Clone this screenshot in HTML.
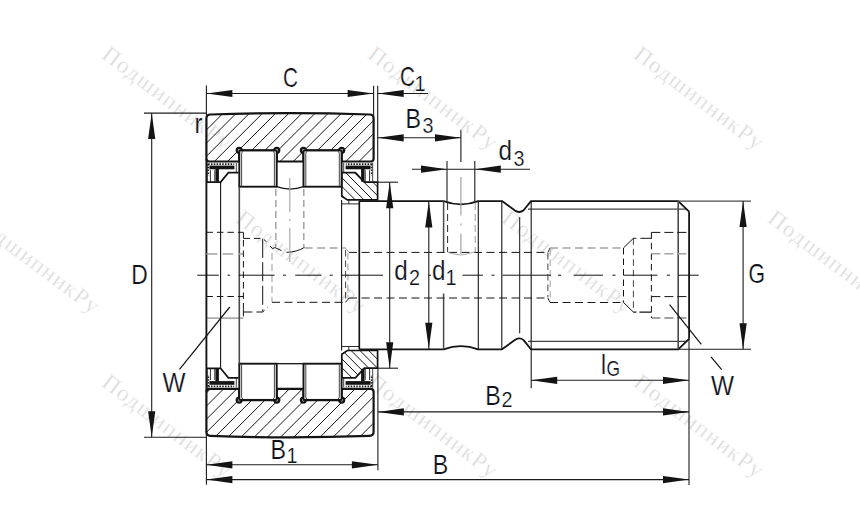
<!DOCTYPE html>
<html lang="ru"><head><meta charset="utf-8"><title>Подшипник — чертёж</title>
<style>
html,body{margin:0;padding:0;background:#fff;}
body{width:860px;height:530px;overflow:hidden;}
svg{display:block;}
</style></head><body>
<svg width="860" height="530" viewBox="0 0 860 530">
<rect width="860" height="530" fill="#fff"/>
<defs>
<clipPath id="cr1"><path d="M206.4,158.5 L206.4,118.6 Q206.4,114.6 210.4,114.5 Q290.0,111.6 369.6,114.5 Q373.6,114.6 373.6,118.6 L373.6,158.5 Q373.6,161.5 370.6,161.5 L341.7,161.5 L341.7,152.8 A2.5,2.5 0 1 0 339.2,150.3 L305.9,150.3 A2.5,2.5 0 1 0 303.4,152.8 L303.4,161.5 L276.8,161.5 L276.8,152.8 A2.5,2.5 0 1 0 274.3,150.3 L241.7,150.3 A2.5,2.5 0 1 0 239.2,152.8 L239.2,161.5 L209.4,161.5 Q206.4,161.5 206.4,158.5 Z"/></clipPath>
<clipPath id="cr2"><path d="M206.4,391.9 L206.4,431.8 Q206.4,435.8 210.4,435.9 Q290.0,438.8 369.6,435.9 Q373.6,435.8 373.6,431.8 L373.6,391.9 Q373.6,388.9 370.6,388.9 L341.7,388.9 L341.7,397.6 A2.5,2.5 0 1 1 339.2,400.1 L305.9,400.1 A2.5,2.5 0 1 1 303.4,397.6 L303.4,388.9 L276.8,388.9 L276.8,397.6 A2.5,2.5 0 1 1 274.3,400.1 L241.7,400.1 A2.5,2.5 0 1 1 239.2,397.6 L239.2,388.9 L209.4,388.9 Q206.4,388.9 206.4,391.9 Z"/></clipPath>
<clipPath id="cw1"><path d="M341.8,172.6 L355.4,172.6 L364.4,182.2 L377.6,182.2 L377.6,199.9 L347.4,199.9 L341.8,196.2 Z"/></clipPath>
<clipPath id="cw2"><path d="M341.8,377.8 L355.4,377.8 L364.4,368.2 L377.6,368.2 L377.6,350.5 L347.4,350.5 L341.8,354.2 Z"/></clipPath>
</defs>
<g id="wm">
<text transform="translate(100.5,57.3) rotate(37)" font-family="'Liberation Serif',serif" font-size="23" fill="#dcdcdc" stroke="#fff" stroke-width="0.3" paint-order="fill stroke" textLength="155" lengthAdjust="spacing">ПодшипникРу</text>
<text transform="translate(366.5,57.3) rotate(37)" font-family="'Liberation Serif',serif" font-size="23" fill="#dcdcdc" stroke="#fff" stroke-width="0.3" paint-order="fill stroke" textLength="155" lengthAdjust="spacing">ПодшипникРу</text>
<text transform="translate(632.5,57.3) rotate(37)" font-family="'Liberation Serif',serif" font-size="23" fill="#dcdcdc" stroke="#fff" stroke-width="0.3" paint-order="fill stroke" textLength="155" lengthAdjust="spacing">ПодшипникРу</text>
<text transform="translate(-31.5,221.2) rotate(37)" font-family="'Liberation Serif',serif" font-size="23" fill="#dcdcdc" stroke="#fff" stroke-width="0.3" paint-order="fill stroke" textLength="155" lengthAdjust="spacing">ПодшипникРу</text>
<text transform="translate(234.5,221.2) rotate(37)" font-family="'Liberation Serif',serif" font-size="23" fill="#dcdcdc" stroke="#fff" stroke-width="0.3" paint-order="fill stroke" textLength="155" lengthAdjust="spacing">ПодшипникРу</text>
<text transform="translate(500.5,221.2) rotate(37)" font-family="'Liberation Serif',serif" font-size="23" fill="#dcdcdc" stroke="#fff" stroke-width="0.3" paint-order="fill stroke" textLength="155" lengthAdjust="spacing">ПодшипникРу</text>
<text transform="translate(766.5,221.2) rotate(37)" font-family="'Liberation Serif',serif" font-size="23" fill="#dcdcdc" stroke="#fff" stroke-width="0.3" paint-order="fill stroke" textLength="155" lengthAdjust="spacing">ПодшипникРу</text>
<text transform="translate(100.5,385.3) rotate(37)" font-family="'Liberation Serif',serif" font-size="23" fill="#dcdcdc" stroke="#fff" stroke-width="0.3" paint-order="fill stroke" textLength="155" lengthAdjust="spacing">ПодшипникРу</text>
<text transform="translate(366.5,385.3) rotate(37)" font-family="'Liberation Serif',serif" font-size="23" fill="#dcdcdc" stroke="#fff" stroke-width="0.3" paint-order="fill stroke" textLength="155" lengthAdjust="spacing">ПодшипникРу</text>
<text transform="translate(632.5,385.3) rotate(37)" font-family="'Liberation Serif',serif" font-size="23" fill="#dcdcdc" stroke="#fff" stroke-width="0.3" paint-order="fill stroke" textLength="155" lengthAdjust="spacing">ПодшипникРу</text>
</g>
<g clip-path="url(#cr1)" stroke="#141414" stroke-width="1.0">
<line x1="223.20" y1="100" x2="-126.80" y2="450"/>
<line x1="236.35" y1="100" x2="-113.65" y2="450"/>
<line x1="249.50" y1="100" x2="-100.50" y2="450"/>
<line x1="262.65" y1="100" x2="-87.35" y2="450"/>
<line x1="275.80" y1="100" x2="-74.20" y2="450"/>
<line x1="288.95" y1="100" x2="-61.05" y2="450"/>
<line x1="302.10" y1="100" x2="-47.90" y2="450"/>
<line x1="315.25" y1="100" x2="-34.75" y2="450"/>
<line x1="328.40" y1="100" x2="-21.60" y2="450"/>
<line x1="341.55" y1="100" x2="-8.45" y2="450"/>
<line x1="354.70" y1="100" x2="4.70" y2="450"/>
<line x1="367.85" y1="100" x2="17.85" y2="450"/>
<line x1="381.00" y1="100" x2="31.00" y2="450"/>
<line x1="394.15" y1="100" x2="44.15" y2="450"/>
<line x1="407.30" y1="100" x2="57.30" y2="450"/>
<line x1="420.45" y1="100" x2="70.45" y2="450"/>
<line x1="433.60" y1="100" x2="83.60" y2="450"/>
<line x1="446.75" y1="100" x2="96.75" y2="450"/>
</g>
<g clip-path="url(#cr2)" stroke="#141414" stroke-width="1.0">
<line x1="486.20" y1="100" x2="136.20" y2="450"/>
<line x1="499.35" y1="100" x2="149.35" y2="450"/>
<line x1="512.50" y1="100" x2="162.50" y2="450"/>
<line x1="525.65" y1="100" x2="175.65" y2="450"/>
<line x1="538.80" y1="100" x2="188.80" y2="450"/>
<line x1="551.95" y1="100" x2="201.95" y2="450"/>
<line x1="565.10" y1="100" x2="215.10" y2="450"/>
<line x1="578.25" y1="100" x2="228.25" y2="450"/>
<line x1="591.40" y1="100" x2="241.40" y2="450"/>
<line x1="604.55" y1="100" x2="254.55" y2="450"/>
<line x1="617.70" y1="100" x2="267.70" y2="450"/>
<line x1="630.85" y1="100" x2="280.85" y2="450"/>
<line x1="644.00" y1="100" x2="294.00" y2="450"/>
<line x1="657.15" y1="100" x2="307.15" y2="450"/>
<line x1="670.30" y1="100" x2="320.30" y2="450"/>
<line x1="683.45" y1="100" x2="333.45" y2="450"/>
<line x1="696.60" y1="100" x2="346.60" y2="450"/>
<line x1="709.75" y1="100" x2="359.75" y2="450"/>
<line x1="722.90" y1="100" x2="372.90" y2="450"/>
<line x1="736.05" y1="100" x2="386.05" y2="450"/>
<line x1="749.20" y1="100" x2="399.20" y2="450"/>
<line x1="762.35" y1="100" x2="412.35" y2="450"/>
<line x1="775.50" y1="100" x2="425.50" y2="450"/>
<line x1="788.65" y1="100" x2="438.65" y2="450"/>
</g>
<g clip-path="url(#cw1)" stroke="#141414" stroke-width="1.0">
<line x1="220.20" y1="100" x2="570.20" y2="450"/>
<line x1="229.00" y1="100" x2="579.00" y2="450"/>
<line x1="237.80" y1="100" x2="587.80" y2="450"/>
<line x1="246.60" y1="100" x2="596.60" y2="450"/>
<line x1="255.40" y1="100" x2="605.40" y2="450"/>
<line x1="264.20" y1="100" x2="614.20" y2="450"/>
<line x1="273.00" y1="100" x2="623.00" y2="450"/>
<line x1="281.80" y1="100" x2="631.80" y2="450"/>
<line x1="290.60" y1="100" x2="640.60" y2="450"/>
<line x1="299.40" y1="100" x2="649.40" y2="450"/>
<line x1="308.20" y1="100" x2="658.20" y2="450"/>
<line x1="317.00" y1="100" x2="667.00" y2="450"/>
</g>
<g clip-path="url(#cw2)" stroke="#141414" stroke-width="1.0">
<line x1="287.80" y1="340" x2="337.80" y2="390"/>
<line x1="296.60" y1="340" x2="346.60" y2="390"/>
<line x1="305.40" y1="340" x2="355.40" y2="390"/>
<line x1="314.20" y1="340" x2="364.20" y2="390"/>
<line x1="323.00" y1="340" x2="373.00" y2="390"/>
<line x1="331.80" y1="340" x2="381.80" y2="390"/>
<line x1="340.60" y1="340" x2="390.60" y2="390"/>
<line x1="349.40" y1="340" x2="399.40" y2="390"/>
<line x1="358.20" y1="340" x2="408.20" y2="390"/>
<line x1="367.00" y1="340" x2="417.00" y2="390"/>
<line x1="375.80" y1="340" x2="425.80" y2="390"/>
<line x1="384.60" y1="340" x2="434.60" y2="390"/>
<line x1="393.40" y1="340" x2="443.40" y2="390"/>
<line x1="402.20" y1="340" x2="452.20" y2="390"/>
</g>
<path d="M206.4,158.5 L206.4,118.6 Q206.4,114.6 210.4,114.5 Q290.0,111.6 369.6,114.5 Q373.6,114.6 373.6,118.6 L373.6,158.5 Q373.6,161.5 370.6,161.5 L341.7,161.5 L341.7,152.8 A2.5,2.5 0 1 0 339.2,150.3 L305.9,150.3 A2.5,2.5 0 1 0 303.4,152.8 L303.4,161.5 L276.8,161.5 L276.8,152.8 A2.5,2.5 0 1 0 274.3,150.3 L241.7,150.3 A2.5,2.5 0 1 0 239.2,152.8 L239.2,161.5 L209.4,161.5 Q206.4,161.5 206.4,158.5 Z" stroke="#141414" stroke-width="2.2" fill="none" />
<path d="M206.4,391.9 L206.4,431.8 Q206.4,435.8 210.4,435.9 Q290.0,438.8 369.6,435.9 Q373.6,435.8 373.6,431.8 L373.6,391.9 Q373.6,388.9 370.6,388.9 L341.7,388.9 L341.7,397.6 A2.5,2.5 0 1 1 339.2,400.1 L305.9,400.1 A2.5,2.5 0 1 1 303.4,397.6 L303.4,388.9 L276.8,388.9 L276.8,397.6 A2.5,2.5 0 1 1 274.3,400.1 L241.7,400.1 A2.5,2.5 0 1 1 239.2,397.6 L239.2,388.9 L209.4,388.9 Q206.4,388.9 206.4,391.9 Z" stroke="#141414" stroke-width="2.2" fill="none" />
<path d="M341.8,172.6 L355.4,172.6 L364.4,182.2 L377.6,182.2 L377.6,199.9 L347.4,199.9 L341.8,196.2 Z" stroke="#141414" stroke-width="1.7" fill="none" />
<path d="M341.8,377.8 L355.4,377.8 L364.4,368.2 L377.6,368.2 L377.6,350.5 L347.4,350.5 L341.8,354.2 Z" stroke="#141414" stroke-width="1.7" fill="none" />
<rect x="239.3" y="150.5" width="37.40" height="36.20" fill="#fff" stroke="#141414" stroke-width="1.9"/>
<path d="M242.9,151.5 Q241.60000000000002,151.7 241.60000000000002,153.5 L241.60000000000002,185.89999999999998" stroke="#141414" stroke-width="0.8" fill="none" />
<path d="M273.09999999999997,151.5 Q274.4,151.7 274.4,153.5 L274.4,185.89999999999998" stroke="#141414" stroke-width="0.8" fill="none" />
<rect x="303.5" y="150.5" width="38.10" height="36.20" fill="#fff" stroke="#141414" stroke-width="1.9"/>
<path d="M307.1,151.5 Q305.8,151.7 305.8,153.5 L305.8,185.89999999999998" stroke="#141414" stroke-width="0.8" fill="none" />
<path d="M338.0,151.5 Q339.3,151.7 339.3,153.5 L339.3,185.89999999999998" stroke="#141414" stroke-width="0.8" fill="none" />
<path d="M276.7,186.7 Q290.1,191.6 303.5,186.7" stroke="#141414" stroke-width="1.3" fill="none" />
<rect x="239.3" y="363.7" width="37.40" height="36.20" fill="#fff" stroke="#141414" stroke-width="1.9"/>
<path d="M242.9,398.9 Q241.60000000000002,398.7 241.60000000000002,396.9 L241.60000000000002,364.5" stroke="#141414" stroke-width="0.8" fill="none" />
<path d="M273.09999999999997,398.9 Q274.4,398.7 274.4,396.9 L274.4,364.5" stroke="#141414" stroke-width="0.8" fill="none" />
<rect x="303.5" y="363.7" width="38.10" height="36.20" fill="#fff" stroke="#141414" stroke-width="1.9"/>
<path d="M307.1,398.9 Q305.8,398.7 305.8,396.9 L305.8,364.5" stroke="#141414" stroke-width="0.8" fill="none" />
<path d="M338.0,398.9 Q339.3,398.7 339.3,396.9 L339.3,364.5" stroke="#141414" stroke-width="0.8" fill="none" />
<line x1="276.7" y1="363.7" x2="303.5" y2="363.7" stroke="#141414" stroke-width="1.3"/>
<line x1="208.2" y1="164.1" x2="234.2" y2="164.1" stroke="#141414" stroke-width="1.7" stroke-dasharray="1.5 1.3"/>
<line x1="208.4" y1="164.0" x2="208.4" y2="175.5" stroke="#141414" stroke-width="1.5" stroke-dasharray="1.5 1.3"/>
<rect x="209.4" y="165.6" width="25.00" height="3.70" fill="#141414"/>
<rect x="215.4" y="169.0" width="3.50" height="12.60" fill="#141414"/>
<line x1="210.4" y1="170.2" x2="210.4" y2="181.8" stroke="#141414" stroke-width="0.9"/>
<line x1="214.6" y1="170.2" x2="214.6" y2="181.8" stroke="#141414" stroke-width="0.7"/>
<line x1="207.3" y1="162.5" x2="207.3" y2="182.1" stroke="#141414" stroke-width="0.8"/>
<line x1="236.3" y1="163.0" x2="236.3" y2="172.5" stroke="#141414" stroke-width="0.8"/>
<line x1="371.8" y1="164.1" x2="345.8" y2="164.1" stroke="#141414" stroke-width="1.7" stroke-dasharray="1.5 1.3"/>
<line x1="371.6" y1="164.0" x2="371.6" y2="175.5" stroke="#141414" stroke-width="1.5" stroke-dasharray="1.5 1.3"/>
<rect x="345.6" y="165.6" width="25.00" height="3.70" fill="#141414"/>
<rect x="361.1" y="169.0" width="3.50" height="12.60" fill="#141414"/>
<line x1="369.6" y1="170.2" x2="369.6" y2="181.8" stroke="#141414" stroke-width="0.9"/>
<line x1="365.4" y1="170.2" x2="365.4" y2="181.8" stroke="#141414" stroke-width="0.7"/>
<line x1="372.7" y1="162.5" x2="372.7" y2="182.1" stroke="#141414" stroke-width="0.8"/>
<line x1="343.7" y1="163.0" x2="343.7" y2="172.5" stroke="#141414" stroke-width="0.8"/>
<line x1="208.2" y1="386.3" x2="234.2" y2="386.3" stroke="#141414" stroke-width="1.7" stroke-dasharray="1.5 1.3"/>
<line x1="208.4" y1="386.4" x2="208.4" y2="374.9" stroke="#141414" stroke-width="1.5" stroke-dasharray="1.5 1.3"/>
<rect x="209.4" y="381.1" width="25.00" height="3.70" fill="#141414"/>
<rect x="215.4" y="368.8" width="3.50" height="12.60" fill="#141414"/>
<line x1="210.4" y1="380.2" x2="210.4" y2="368.6" stroke="#141414" stroke-width="0.9"/>
<line x1="214.6" y1="380.2" x2="214.6" y2="368.6" stroke="#141414" stroke-width="0.7"/>
<line x1="207.3" y1="387.9" x2="207.3" y2="368.3" stroke="#141414" stroke-width="0.8"/>
<line x1="236.3" y1="387.4" x2="236.3" y2="377.9" stroke="#141414" stroke-width="0.8"/>
<line x1="371.8" y1="386.3" x2="345.8" y2="386.3" stroke="#141414" stroke-width="1.7" stroke-dasharray="1.5 1.3"/>
<line x1="371.6" y1="386.4" x2="371.6" y2="374.9" stroke="#141414" stroke-width="1.5" stroke-dasharray="1.5 1.3"/>
<rect x="345.6" y="381.1" width="25.00" height="3.70" fill="#141414"/>
<rect x="361.1" y="368.8" width="3.50" height="12.60" fill="#141414"/>
<line x1="369.6" y1="380.2" x2="369.6" y2="368.6" stroke="#141414" stroke-width="0.9"/>
<line x1="365.4" y1="380.2" x2="365.4" y2="368.6" stroke="#141414" stroke-width="0.7"/>
<line x1="372.7" y1="387.9" x2="372.7" y2="368.3" stroke="#141414" stroke-width="0.8"/>
<line x1="343.7" y1="387.4" x2="343.7" y2="377.9" stroke="#141414" stroke-width="0.8"/>
<path d="M206.4,182.1 L220.6,182.1 L228.4,172.6 L238.6,172.6" stroke="#141414" stroke-width="1.7" fill="none" />
<path d="M206.4,368.3 L220.6,368.3 L228.4,377.8 L238.6,377.8" stroke="#141414" stroke-width="1.7" fill="none" />
<line x1="341.6" y1="203.9" x2="359.3" y2="203.9" stroke="#141414" stroke-width="0.9"/>
<line x1="348.8" y1="200.0" x2="348.8" y2="203.9" stroke="#141414" stroke-width="0.9"/>
<path d="M359.3,201.1 L443.6,201.1 Q460.9,207.6 478.1,201.1 L502.0,201.1 L515.6,210.9 Q519.8,213.3 523.6,210.3 L531.0,201.1 L678.2,201.1 L689.1,211.6" stroke="#141414" stroke-width="1.8" fill="none" stroke-linejoin="round"/>
<line x1="528.0" y1="209.1" x2="686.4" y2="209.1" stroke="#141414" stroke-width="1.0"/>
<line x1="341.6" y1="346.5" x2="359.3" y2="346.5" stroke="#141414" stroke-width="0.9"/>
<line x1="348.8" y1="350.4" x2="348.8" y2="346.5" stroke="#141414" stroke-width="0.9"/>
<path d="M359.3,349.3 L443.6,349.3 Q460.9,342.8 478.1,349.3 L502.0,349.3 L515.6,339.5 Q519.8,337.1 523.6,340.1 L531.0,349.3 L678.2,349.3 L689.1,338.8" stroke="#141414" stroke-width="1.8" fill="none" stroke-linejoin="round"/>
<line x1="528.0" y1="341.3" x2="686.4" y2="341.3" stroke="#141414" stroke-width="1.0"/>
<line x1="206.4" y1="159" x2="206.4" y2="391.4" stroke="#141414" stroke-width="1.9"/>
<line x1="220.6" y1="182.1" x2="220.6" y2="368.3" stroke="#141414" stroke-width="1.1"/>
<line x1="239.3" y1="186.7" x2="239.3" y2="363.7" stroke="#4a4a4a" stroke-width="1.6"/>
<line x1="341.6" y1="199.9" x2="341.6" y2="350.5" stroke="#141414" stroke-width="1.1"/>
<line x1="359.3" y1="201.1" x2="359.3" y2="349.3" stroke="#141414" stroke-width="1.7"/>
<line x1="443.6" y1="201.1" x2="443.6" y2="252.7" stroke="#4a4a4a" stroke-width="1.5"/>
<line x1="443.6" y1="293.5" x2="443.6" y2="349.3" stroke="#4a4a4a" stroke-width="1.5"/>
<line x1="478.3" y1="201.1" x2="478.3" y2="349.3" stroke="#141414" stroke-width="1.1"/>
<line x1="501.8" y1="201.1" x2="501.8" y2="349.3" stroke="#141414" stroke-width="1.1"/>
<line x1="519.7" y1="217.1" x2="519.7" y2="333.3" stroke="#141414" stroke-width="1.0"/>
<line x1="531.2" y1="201.1" x2="531.2" y2="349.3" stroke="#141414" stroke-width="1.1"/>
<line x1="678.2" y1="201.1" x2="678.2" y2="349.3" stroke="#4a4a4a" stroke-width="1.6"/>
<line x1="689.1" y1="211.6" x2="689.1" y2="338.8" stroke="#141414" stroke-width="1.8"/>
<line x1="206.4" y1="232.3" x2="243.4" y2="232.3" stroke="#141414" stroke-width="1.0" stroke-dasharray="6.5 4"/>
<line x1="243.4" y1="232.3" x2="243.4" y2="238.4" stroke="#141414" stroke-width="1.0"/>
<path d="M243.4,238.4 L262.7,238.4 L266.5,241.8" stroke="#141414" stroke-width="1.0" fill="none" stroke-dasharray="6.5 4" />
<path d="M270,246 L272.5,248.6 L275,247.6 L281.5,250.6" stroke="#141414" stroke-width="1.0" fill="none" />
<path d="M286.5,252.4 Q297,252 304.6,247.3" stroke="#141414" stroke-width="1.0" fill="none" />
<line x1="206.4" y1="253.9" x2="243.4" y2="253.9" stroke="#a4a4a4" stroke-width="1.5" stroke-dasharray="11 5"/>
<line x1="206.4" y1="296.5" x2="243.4" y2="296.5" stroke="#141414" stroke-width="1.0" stroke-dasharray="6.5 4"/>
<line x1="206.4" y1="318.1" x2="243.4" y2="318.1" stroke="#4a4a4a" stroke-width="0.8"/>
<path d="M243.4,312.0 L262.7,312.0 L268,306.8" stroke="#141414" stroke-width="1.0" fill="none" stroke-dasharray="9 4" />
<line x1="243.4" y1="316.4" x2="243.4" y2="309.4" stroke="#141414" stroke-width="1.0"/>
<line x1="243.4" y1="240" x2="243.4" y2="310.4" stroke="#141414" stroke-width="1.0" stroke-dasharray="6.5 4"/>
<line x1="262.7" y1="238.8" x2="262.7" y2="311.6" stroke="#141414" stroke-width="1.0" stroke-dasharray="19 4.5"/>
<line x1="272.0" y1="253" x2="272.0" y2="302.2" stroke="#a4a4a4" stroke-width="1.1" stroke-dasharray="7 4"/>
<line x1="304.6" y1="248.1" x2="345.5" y2="248.1" stroke="#a4a4a4" stroke-width="1.5" stroke-dasharray="8 4.5"/>
<path d="M345.5,248.1 L349,252.3" stroke="#a4a4a4" stroke-width="1.0" fill="none" />
<line x1="272.0" y1="302.3" x2="345.5" y2="302.3" stroke="#141414" stroke-width="1.0" stroke-dasharray="8 4.5"/>
<path d="M345.5,302.3 L349,298.1" stroke="#141414" stroke-width="1.0" fill="none" />
<line x1="345.6" y1="250" x2="345.6" y2="300.4" stroke="#141414" stroke-width="0.8" stroke-dasharray="6.5 4"/>
<line x1="347.9" y1="253" x2="347.9" y2="297.4" stroke="#a4a4a4" stroke-width="1.1" stroke-dasharray="6.5 4"/>
<line x1="275.8" y1="189" x2="275.8" y2="247" stroke="#a4a4a4" stroke-width="1.5" stroke-dasharray="7 4"/>
<line x1="303.8" y1="189" x2="303.8" y2="247" stroke="#a4a4a4" stroke-width="1.5" stroke-dasharray="7 4"/>
<path d="M289.8,178 L289.8,212 M289.8,219 L289.8,221 M289.8,228 L289.8,262" stroke="#a4a4a4" stroke-width="1.1" fill="none" />
<line x1="349" y1="252.4" x2="547.9" y2="252.4" stroke="#141414" stroke-width="1.0" stroke-dasharray="8 4.5"/>
<line x1="349" y1="298.0" x2="547.9" y2="298.0" stroke="#141414" stroke-width="1.0" stroke-dasharray="8 4.5"/>
<line x1="447.6" y1="203" x2="447.6" y2="252" stroke="#141414" stroke-width="0.9" stroke-dasharray="7 4"/>
<line x1="475.2" y1="203" x2="475.2" y2="252" stroke="#a4a4a4" stroke-width="1.1" stroke-dasharray="7 4"/>
<path d="M460.9,177 L460.9,215.5 M460.9,223.5 L460.9,225.5 M460.9,233.5 L460.9,254" stroke="#a4a4a4" stroke-width="1.2" fill="none" />
<path d="M447.6,252.4 L455,254.2 L460.9,255 L466,254.2 L475.2,251.9" stroke="#a4a4a4" stroke-width="0.9" fill="none" />
<path d="M547.9,252.4 L550,248" stroke="#141414" stroke-width="0.9" fill="none" />
<path d="M547.9,298.0 L550,302.4" stroke="#141414" stroke-width="0.9" fill="none" />
<line x1="547.9" y1="253" x2="547.9" y2="297.4" stroke="#141414" stroke-width="0.8" stroke-dasharray="6.5 4"/>
<line x1="550.2" y1="249" x2="550.2" y2="301.4" stroke="#a4a4a4" stroke-width="1.0" stroke-dasharray="6.5 4"/>
<line x1="550" y1="247.9" x2="623.5" y2="247.9" stroke="#a4a4a4" stroke-width="1.5" stroke-dasharray="8 4.5"/>
<line x1="550" y1="302.5" x2="623.5" y2="302.5" stroke="#141414" stroke-width="1.0" stroke-dasharray="8 4.5"/>
<path d="M623.5,247.9 L633.4,238.3" stroke="#141414" stroke-width="1.0" fill="none" />
<path d="M623.5,302.5 L633.4,312.1" stroke="#141414" stroke-width="1.0" fill="none" />
<line x1="623.5" y1="248" x2="623.5" y2="302.4" stroke="#141414" stroke-width="1.0" stroke-dasharray="6.5 4"/>
<line x1="633.4" y1="238.3" x2="633.4" y2="312.1" stroke="#141414" stroke-width="0.8" stroke-dasharray="6.5 4"/>
<path d="M633.4,238.3 L651.4,238.3" stroke="#141414" stroke-width="1.0" fill="none" stroke-dasharray="3 4 12 0" />
<path d="M633.4,312.1 L651.4,312.1" stroke="#141414" stroke-width="1.1" fill="none" stroke-dasharray="3 3 12 0" />
<line x1="651.4" y1="232.4" x2="651.4" y2="318.0" stroke="#141414" stroke-width="1.0" stroke-dasharray="6.5 4"/>
<line x1="651.4" y1="232.4" x2="689.1" y2="232.4" stroke="#141414" stroke-width="1.0" stroke-dasharray="9 4"/>
<line x1="651.4" y1="318.0" x2="689.1" y2="318.0" stroke="#141414" stroke-width="0.8" stroke-dasharray="9 4"/>
<line x1="651.4" y1="253.8" x2="689.1" y2="253.8" stroke="#a4a4a4" stroke-width="1.5" stroke-dasharray="9 4"/>
<line x1="651.4" y1="296.6" x2="689.1" y2="296.6" stroke="#141414" stroke-width="1.0" stroke-dasharray="9 4"/>
<line x1="197.2" y1="275.2" x2="218.8" y2="275.2" stroke="#141414" stroke-width="1.0"/>
<line x1="227.5" y1="275.2" x2="230" y2="275.2" stroke="#141414" stroke-width="1.0"/>
<line x1="238.7" y1="275.2" x2="274.6" y2="275.2" stroke="#141414" stroke-width="1.0"/>
<line x1="283" y1="275.2" x2="286" y2="275.2" stroke="#141414" stroke-width="1.0"/>
<line x1="295.2" y1="275.2" x2="321.6" y2="275.2" stroke="#141414" stroke-width="1.0"/>
<line x1="329.7" y1="275.2" x2="332.7" y2="275.2" stroke="#141414" stroke-width="1.0"/>
<line x1="340.9" y1="275.2" x2="383" y2="275.2" stroke="#141414" stroke-width="1.0"/>
<line x1="428" y1="275.2" x2="431" y2="275.2" stroke="#141414" stroke-width="1.0"/>
<line x1="462.5" y1="275.2" x2="482.9" y2="275.2" stroke="#141414" stroke-width="1.0"/>
<line x1="491.5" y1="275.2" x2="494.5" y2="275.2" stroke="#141414" stroke-width="1.0"/>
<line x1="502.5" y1="275.2" x2="551" y2="275.2" stroke="#141414" stroke-width="1.0"/>
<line x1="558" y1="275.2" x2="561" y2="275.2" stroke="#141414" stroke-width="1.0"/>
<line x1="573.7" y1="275.2" x2="603" y2="275.2" stroke="#141414" stroke-width="1.0"/>
<line x1="612.4" y1="275.2" x2="615.5" y2="275.2" stroke="#141414" stroke-width="1.0"/>
<line x1="623.9" y1="275.2" x2="657.4" y2="275.2" stroke="#141414" stroke-width="1.0"/>
<line x1="666.8" y1="275.2" x2="670" y2="275.2" stroke="#141414" stroke-width="1.0"/>
<line x1="678.3" y1="275.2" x2="698.8" y2="275.2" stroke="#141414" stroke-width="1.0"/>
<line x1="206.4" y1="85.5" x2="206.4" y2="118" stroke="#1c1c1c" stroke-width="1.1"/>
<line x1="373.6" y1="85.8" x2="373.6" y2="118" stroke="#1c1c1c" stroke-width="1.1"/>
<line x1="377.7" y1="85.8" x2="377.7" y2="182" stroke="#1c1c1c" stroke-width="1.1"/>
<line x1="206.4" y1="93.5" x2="373.6" y2="93.5" stroke="#1c1c1c" stroke-width="1.1"/>
<polygon points="206.4,93.5 232.40,89.90 232.40,97.10" fill="#141414"/>
<polygon points="373.6,93.5 347.60,97.10 347.60,89.90" fill="#141414"/>
<line x1="377.7" y1="93.5" x2="428" y2="93.5" stroke="#1c1c1c" stroke-width="1.1"/>
<polygon points="377.7,93.5 403.70,89.90 403.70,97.10" fill="#141414"/>
<line x1="377.7" y1="137.8" x2="461.0" y2="137.8" stroke="#1c1c1c" stroke-width="1.1"/>
<polygon points="377.7,137.8 403.70,134.20 403.70,141.40" fill="#141414"/>
<polygon points="461.0,137.8 435.00,141.40 435.00,134.20" fill="#141414"/>
<line x1="460.9" y1="129.8" x2="460.9" y2="162" stroke="#1c1c1c" stroke-width="1.1"/>
<line x1="447.0" y1="161" x2="447.0" y2="201" stroke="#1c1c1c" stroke-width="1.1"/>
<line x1="474.8" y1="161" x2="474.8" y2="201" stroke="#1c1c1c" stroke-width="1.1"/>
<line x1="412" y1="169.2" x2="530" y2="169.2" stroke="#1c1c1c" stroke-width="1.1"/>
<polygon points="447.0,169.2 421.00,172.80 421.00,165.60" fill="#141414"/>
<polygon points="474.8,169.2 500.80,165.60 500.80,172.80" fill="#141414"/>
<line x1="144" y1="113.1" x2="206.4" y2="113.1" stroke="#1c1c1c" stroke-width="1.1"/>
<line x1="144" y1="437.3" x2="206.4" y2="437.3" stroke="#1c1c1c" stroke-width="1.1"/>
<line x1="151.7" y1="113.1" x2="151.7" y2="437.3" stroke="#1c1c1c" stroke-width="1.1"/>
<polygon points="151.7,113.1 155.30,139.10 148.10,139.10" fill="#141414"/>
<polygon points="151.7,437.3 148.10,411.30 155.30,411.30" fill="#141414"/>
<line x1="377.6" y1="182.2" x2="398" y2="182.2" stroke="#1c1c1c" stroke-width="1.1"/>
<line x1="377.6" y1="368.2" x2="398" y2="368.2" stroke="#1c1c1c" stroke-width="1.1"/>
<line x1="389.7" y1="182.2" x2="389.7" y2="368.2" stroke="#1c1c1c" stroke-width="1.1"/>
<polygon points="389.7,182.2 393.30,208.20 386.10,208.20" fill="#141414"/>
<polygon points="389.7,368.2 386.10,342.20 393.30,342.20" fill="#141414"/>
<line x1="428.8" y1="201.1" x2="428.8" y2="349.3" stroke="#1c1c1c" stroke-width="1.1"/>
<polygon points="428.8,201.6 432.40,227.60 425.20,227.60" fill="#141414"/>
<polygon points="428.8,348.8 425.20,322.80 432.40,322.80" fill="#141414"/>
<line x1="678.2" y1="201.1" x2="751" y2="201.1" stroke="#4a4a4a" stroke-width="1.1"/>
<line x1="678.2" y1="349.3" x2="751" y2="349.3" stroke="#1c1c1c" stroke-width="1.1"/>
<line x1="743.1" y1="201.1" x2="743.1" y2="349.3" stroke="#1c1c1c" stroke-width="1.1"/>
<polygon points="743.1,201.1 746.70,227.10 739.50,227.10" fill="#141414"/>
<polygon points="743.1,349.3 739.50,323.30 746.70,323.30" fill="#141414"/>
<line x1="531.2" y1="349.3" x2="531.2" y2="388.2" stroke="#1c1c1c" stroke-width="1.1"/>
<line x1="531.2" y1="380.3" x2="689.0" y2="380.3" stroke="#1c1c1c" stroke-width="1.1"/>
<polygon points="531.2,380.3 557.20,376.70 557.20,383.90" fill="#141414"/>
<polygon points="689.0,380.3 663.00,383.90 663.00,376.70" fill="#141414"/>
<line x1="689.0" y1="338.8" x2="689.0" y2="485" stroke="#1c1c1c" stroke-width="1.1"/>
<line x1="377.9" y1="368.2" x2="377.9" y2="470.3" stroke="#1c1c1c" stroke-width="1.1"/>
<line x1="377.9" y1="411.9" x2="689.0" y2="411.9" stroke="#1c1c1c" stroke-width="1.1"/>
<polygon points="377.9,411.9 403.90,408.30 403.90,415.50" fill="#141414"/>
<polygon points="689.0,411.9 663.00,415.50 663.00,408.30" fill="#141414"/>
<line x1="206.4" y1="432" x2="206.4" y2="484.7" stroke="#1c1c1c" stroke-width="1.1"/>
<line x1="206.4" y1="464.8" x2="377.9" y2="464.8" stroke="#1c1c1c" stroke-width="1.1"/>
<polygon points="206.4,464.8 232.40,461.20 232.40,468.40" fill="#141414"/>
<polygon points="377.9,464.8 351.90,468.40 351.90,461.20" fill="#141414"/>
<line x1="206.4" y1="479.6" x2="689.0" y2="479.6" stroke="#1c1c1c" stroke-width="1.1"/>
<polygon points="206.4,479.6 232.40,476.00 232.40,483.20" fill="#141414"/>
<polygon points="689.0,479.6 663.00,483.20 663.00,476.00" fill="#141414"/>
<line x1="229.8" y1="307.0" x2="179.5" y2="369.3" stroke="#141414" stroke-width="1.2"/>
<line x1="669.6" y1="304.7" x2="701.3" y2="344.4" stroke="#141414" stroke-width="1.2"/>
<line x1="711.0" y1="356.8" x2="721.7" y2="369.7" stroke="#141414" stroke-width="1.2"/>
<g font-family="'Liberation Sans',sans-serif" fill="#10131c" stroke="#fff" stroke-width="0.2" paint-order="fill stroke">
<text x="283.0" y="87.4" font-size="28" textLength="15" lengthAdjust="spacingAndGlyphs">C</text>
<text x="400.0" y="85.6" font-size="28" textLength="15" lengthAdjust="spacingAndGlyphs">C</text>
<text x="414.5" y="90.8" font-size="22.5" textLength="11" lengthAdjust="spacingAndGlyphs">1</text>
<text x="405.6" y="128.0" font-size="28" textLength="15.5" lengthAdjust="spacingAndGlyphs">B</text>
<text x="422.6" y="132.6" font-size="22.5" textLength="11" lengthAdjust="spacingAndGlyphs">3</text>
<text x="498.6" y="159.6" font-size="28" textLength="13.5" lengthAdjust="spacingAndGlyphs">d</text>
<text x="513.4" y="165.6" font-size="22.5" textLength="11" lengthAdjust="spacingAndGlyphs">3</text>
<text x="194.6" y="132.7" font-size="28" textLength="8" lengthAdjust="spacingAndGlyphs">r</text>
<text x="131.2" y="283.5" font-size="28" textLength="16.5" lengthAdjust="spacingAndGlyphs">D</text>
<text x="394.2" y="280.0" font-size="28" textLength="13.5" lengthAdjust="spacingAndGlyphs">d</text>
<text x="409.0" y="284.6" font-size="22.5" textLength="11" lengthAdjust="spacingAndGlyphs">2</text>
<text x="432.0" y="280.0" font-size="28" textLength="13.5" lengthAdjust="spacingAndGlyphs">d</text>
<text x="445.6" y="284.6" font-size="22.5" textLength="11" lengthAdjust="spacingAndGlyphs">1</text>
<text x="748.4" y="282.8" font-size="28" textLength="16.5" lengthAdjust="spacingAndGlyphs">G</text>
<text x="162.6" y="392.3" font-size="28" textLength="23" lengthAdjust="spacingAndGlyphs">W</text>
<text x="711.0" y="394.5" font-size="28" textLength="23" lengthAdjust="spacingAndGlyphs">W</text>
<text x="601.0" y="373.8" font-size="28" textLength="5" lengthAdjust="spacingAndGlyphs">l</text>
<text x="606.4" y="375.6" font-size="22.5" textLength="13.5" lengthAdjust="spacingAndGlyphs">G</text>
<text x="485.2" y="405.0" font-size="28" textLength="15.5" lengthAdjust="spacingAndGlyphs">B</text>
<text x="501.6" y="407.4" font-size="22.5" textLength="11" lengthAdjust="spacingAndGlyphs">2</text>
<text x="270.6" y="459.2" font-size="28" textLength="15.5" lengthAdjust="spacingAndGlyphs">B</text>
<text x="286.4" y="463.0" font-size="22.5" textLength="11" lengthAdjust="spacingAndGlyphs">1</text>
<text x="432.8" y="473.5" font-size="28" textLength="15.5" lengthAdjust="spacingAndGlyphs">B</text>
</g>
</svg>
</body></html>
